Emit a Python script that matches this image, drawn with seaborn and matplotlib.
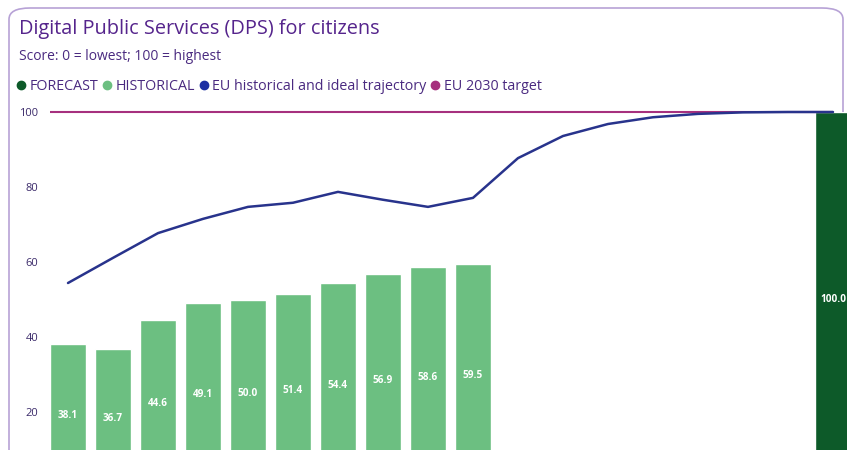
import matplotlib
matplotlib.use("Agg")
import matplotlib.pyplot as plt
from matplotlib.lines import Line2D
from matplotlib.patches import FancyBboxPatch
import numpy as np
import pandas as pd
import seaborn as sns

# Years on the x axis
years = [str(y) for y in range(2013, 2031)]

# Country DPS score (historical) and forecast for 2030
hist_years = [str(y) for y in range(2013, 2023)]
hist_values = [38.1, 36.7, 44.6, 49.1, 50.0, 51.4, 54.4, 56.9, 58.6, 59.5]
forecast_years = ["2030"]
forecast_values = [100.0]

# EU historical and ideal trajectory
eu_values = [54.4, 61.1, 67.7, 71.5, 74.7, 75.8, 78.7, 76.6, 74.7, 77.1,
             87.7, 93.6, 96.8, 98.6, 99.5, 99.9, 100.0, 100.0]

# EU 2030 target
target = 100.0

# Y axis ticks shown
y_ticks = [20, 40, 60, 80, 100]

# Colours
c_forecast = "#0d5a29"
c_hist = "#6cbf81"
c_eu_line = "#28338c"
c_eu_dot = "#1c2fa3"
c_target = "#a6307e"
c_title = "#55248c"
c_text = "#4a2a80"
c_tick = "#3b2a6a"

sns.set_theme(style="white")
plt.rcParams["font.family"] = ["Open Sans", "DejaVu Sans"]

W, H = 847, 450
fig = plt.figure(figsize=(W / 100, H / 100), dpi=100)
fig.patch.set_facecolor("white")

# Card border
card = FancyBboxPatch((9 / W, -0.2), (843 - 9) / W, (450 - 8) / H + 0.2,
                      boxstyle="round,pad=0,rounding_size=0.025",
                      transform=fig.transFigure, facecolor="none",
                      edgecolor="#b7a2d6", linewidth=1.2, zorder=-5)
fig.patches.append(card)

# Axes extend past the lower and right edges of the card
x_left, x_right = 45.5, 855.5
y_top, y_bot = 112, 487
ax = fig.add_axes([x_left / W, (H - y_bot) / H,
                   (x_right - x_left) / W, (y_bot - y_top) / H])

bars = pd.DataFrame({
    "year": hist_years + forecast_years,
    "value": hist_values + forecast_values,
    "kind": ["HISTORICAL"] * len(hist_years) + ["FORECAST"] * len(forecast_years),
})

sns.barplot(data=bars, x="year", y="value", hue="kind", order=years,
            palette={"HISTORICAL": c_hist, "FORECAST": c_forecast},
            dodge=False, width=0.8, saturation=1, legend=False, ax=ax)

for cont in ax.containers:
    ax.bar_label(cont, fmt="%.1f", label_type="center", color="white",
                 fontsize=7.2, fontweight="bold")

line_df = pd.DataFrame({"x": np.arange(len(years)), "value": eu_values})
sns.lineplot(data=line_df, x="x", y="value", color=c_eu_line, linewidth=1.8,
             ax=ax, zorder=4, clip_on=False)

ax.hlines(target, -0.4, len(years) - 1, color=c_target, linewidth=1.5,
          zorder=3, clip_on=False)

ax.set_xlim(-0.5, len(years) - 0.5)
ax.set_ylim(0, 100)
ax.set_yticks(y_ticks)
ax.set_xticks([])
ax.tick_params(axis="y", labelsize=8, labelcolor=c_tick, length=0, pad=5)
ax.set_xlabel("")
ax.set_ylabel("")
for s in ax.spines.values():
    s.set_visible(False)
ax.set_facecolor("none")

# Title, subtitle and legend
fig.text(19 / W, 1 - 29 / H, "Digital Public Services (DPS) for citizens",
         color=c_title, fontsize=14.3, va="center", ha="left")
fig.text(19 / W, 1 - 57 / H, "Score: 0 = lowest; 100 = highest",
         color=c_text, fontsize=10, va="center", ha="left")

handles = [
    Line2D([], [], marker="o", linestyle="", color=c_forecast, markersize=6),
    Line2D([], [], marker="o", linestyle="", color=c_hist, markersize=6),
    Line2D([], [], marker="o", linestyle="", color=c_eu_dot, markersize=6),
    Line2D([], [], marker="o", linestyle="", color=c_target, markersize=6),
]
labels = ["FORECAST", "HISTORICAL", "EU historical and ideal trajectory",
          "EU 2030 target"]
leg = fig.legend(handles, labels, loc="center left",
                 bbox_to_anchor=(17 / W, 1 - 87 / H), ncol=4, frameon=False,
                 fontsize=10.3, handlelength=0.6, handletextpad=0.3,
                 columnspacing=0.3, borderaxespad=0, borderpad=0)
for t in leg.get_texts():
    t.set_color(c_text)

fig.savefig("out.png", dpi=100, facecolor="white")
